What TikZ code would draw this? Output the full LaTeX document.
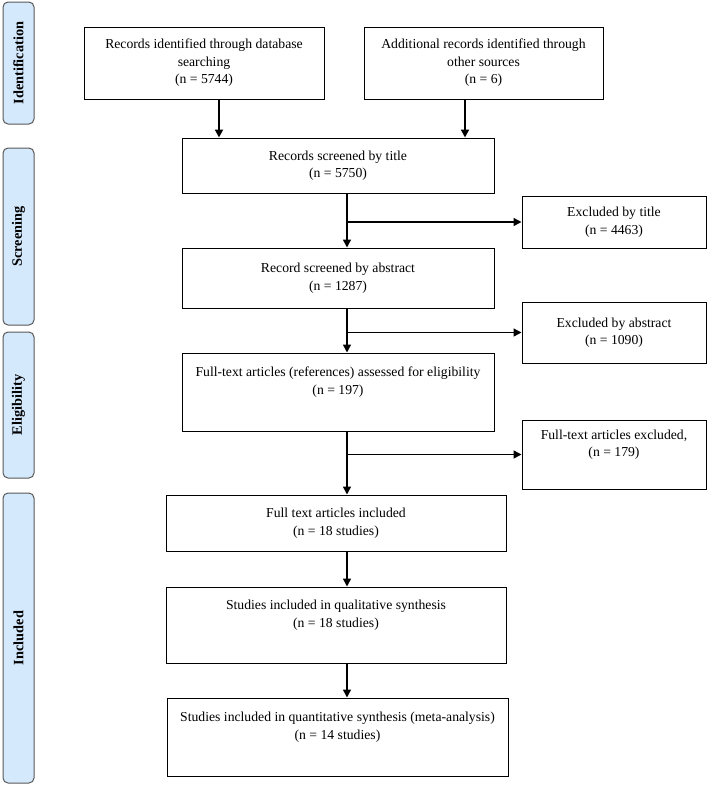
\documentclass[tikz,border=0pt]{standalone}
\usepackage{fontspec}
\setmainfont{Liberation Serif}
\usetikzlibrary{arrows.meta}
\definecolor{phaseblue}{RGB}{212,233,252}

\begin{document}
\begin{tikzpicture}[x=1pt,y=-1pt,
    box/.style={draw, line width=1pt, align=center, inner sep=0pt,
      font=\fontsize{13.7}{17.5}\selectfont},
    phase/.style={draw=black!65, line width=1pt, fill=phaseblue, rounded corners=5pt,
      rotate=90, minimum height=31pt, font=\bfseries\fontsize{14.3}{16}\selectfont},
    arr/.style={line width=1.5pt, -{Triangle[length=8pt,width=8pt]}},
    toparr/.style={arr, line width=2.2pt}]
  \useasboundingbox (0,0) rectangle (709,788);

  % Phase bars on the left
  \node[phase, minimum width=122pt] (ident) at (18.5,63) {Identification};
  \node[phase, minimum width=177pt] (screen) at (18.5,236.5) {Screening};
  \node[phase, minimum width=146pt] (elig) at (18.5,405) {Eligibility};
  \node[phase, minimum width=290pt] (incl) at (18.5,638) {Included};

  % Identification
  \node[box, minimum width=240pt, minimum height=72pt] (db) at (204,63)
    {Records identified through database\\searching\\(n = 5744)};
  \node[box, minimum width=239pt, minimum height=72pt] (other) at (483.5,63)
    {Additional records identified through\\other sources\\(n = 6)};

  % Screening
  \node[box, minimum width=312pt, minimum height=55pt] (title) at (338,165.5)
    {Records screened by title\\(n = 5750)};
  \node[box, minimum width=184pt, minimum height=52pt] (extitle) at (614,222)
    {Excluded by title\\(n = 4463)};
  \node[box, minimum width=312pt, minimum height=60pt] (abstract) at (338,278)
    {Record screened by abstract\\(n = 1287)};
  \node[box, minimum width=184pt, minimum height=61pt] (exabstract) at (614,332.5)
    {Excluded by abstract\\(n = 1090)};

  % Eligibility
  \node[box, minimum width=312pt, minimum height=78pt] (fulltext) at (338,392)
    {Full-text articles (references) assessed for eligibility\\(n = 197)\\\strut};
  \node[box, minimum width=184pt, minimum height=69pt] (exfull) at (614,454.5)
    {Full-text articles excluded,\\(n = 179)\\\strut};

  % Included
  \node[box, minimum width=340pt, minimum height=56pt] (included) at (336,523)
    {Full text articles included\\(n = 18 studies)};
  \node[box, minimum width=340pt, minimum height=76pt] (qual) at (336,625)
    {Studies included in qualitative synthesis\\(n = 18 studies)\\\strut};
  \node[box, minimum width=341pt, minimum height=78pt] (quant) at (337.5,737)
    {Studies included in quantitative synthesis (meta-analysis)\\(n = 14 studies)\\\strut};

  % Arrows into the screening
  \draw[toparr] ([xshift=15pt]db.south) -- ([xshift=15pt]db.south |- title.north);
  \draw[toparr] ([xshift=-18.5pt]other.south) -- ([xshift=-18.5pt]other.south |- title.north);

  % Main line down the middle
  \coordinate (s1) at ([xshift=9pt]title.south |- extitle.west);
  \coordinate (s2) at ([xshift=9pt]abstract.south |- exabstract.west);
  \coordinate (s3) at ([xshift=9pt]fulltext.south |- exfull.west);
  \draw[arr] ([xshift=9pt]title.south) -- ([xshift=9pt]title.south |- abstract.north);
  \draw[arr] ([xshift=9pt]abstract.south) -- ([xshift=9pt]abstract.south |- fulltext.north);
  \draw[arr] ([xshift=9pt]fulltext.south) -- ([xshift=9pt]fulltext.south |- included.north);
  \draw[arr] ([xshift=11pt]included.south) -- ([xshift=11pt]included.south |- qual.north);
  \draw[arr] ([xshift=11pt]qual.south) -- ([xshift=11pt]qual.south |- quant.north);

  % Exclusions
  \draw[arr] (s1) -- (extitle.west);
  \draw[arr] (s2) -- (exabstract.west);
  \draw[arr] (s3) -- (exfull.west);
\end{tikzpicture}
\end{document}
